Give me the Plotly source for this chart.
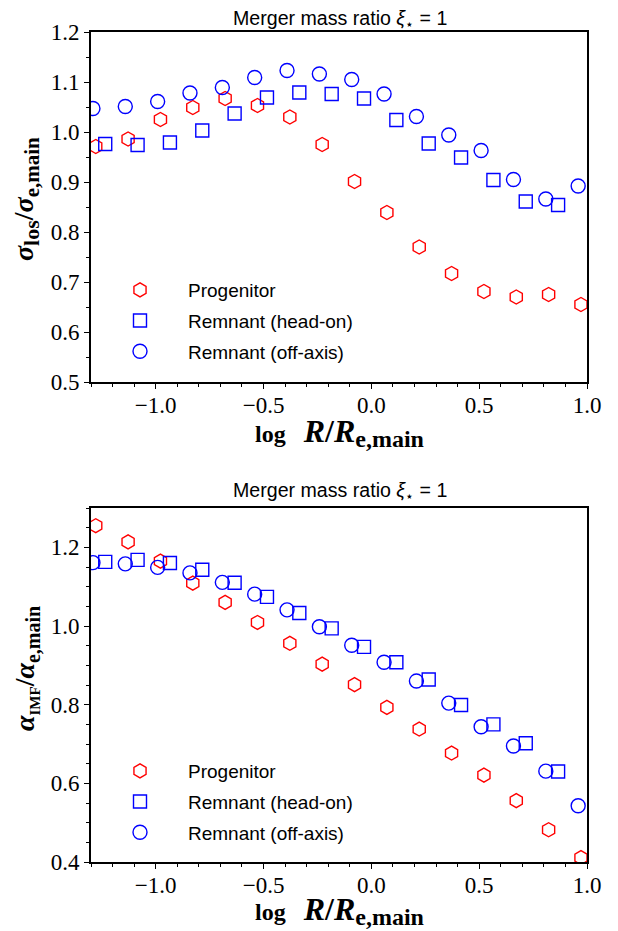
import plotly.graph_objects as go

# ---- data ----
x_prog = [-1.278, -1.128, -0.978, -0.828, -0.678, -0.528, -0.378, -0.228,
          -0.078, 0.072, 0.222, 0.372, 0.522, 0.672, 0.822, 0.972]
x_head = [-1.234, -1.084, -0.934, -0.784, -0.634, -0.484, -0.334, -0.184,
          -0.034, 0.116, 0.266, 0.416, 0.566, 0.716, 0.866]
x_off = [-1.291, -1.141, -0.991, -0.841, -0.691, -0.541, -0.391, -0.241,
         -0.091, 0.059, 0.209, 0.359, 0.509, 0.659, 0.809, 0.959]

sig_prog = [0.971, 0.986, 1.025, 1.049, 1.067, 1.053, 1.030, 0.975,
            0.901, 0.839, 0.770, 0.717, 0.681, 0.670, 0.675, 0.655]
sig_head = [0.976, 0.974, 0.979, 1.003, 1.037, 1.069, 1.079, 1.076,
            1.067, 1.024, 0.977, 0.949, 0.904, 0.861, 0.854]
sig_off = [1.047, 1.051, 1.061, 1.078, 1.089, 1.109, 1.123, 1.116,
           1.105, 1.076, 1.031, 0.994, 0.963, 0.905, 0.866, 0.892]

imf_prog = [1.255, 1.214, 1.165, 1.109, 1.060, 1.009, 0.956, 0.903,
            0.851, 0.793, 0.738, 0.677, 0.621, 0.556, 0.482, 0.411]
imf_head = [1.163, 1.168, 1.160, 1.143, 1.110, 1.074, 1.033, 0.994,
            0.947, 0.908, 0.864, 0.799, 0.750, 0.702, 0.630]
imf_off = [1.161, 1.158, 1.149, 1.135, 1.111, 1.081, 1.041, 0.998,
           0.951, 0.908, 0.860, 0.804, 0.744, 0.695, 0.631, 0.543]

names = ["Progenitor", "Remnant (head-on)", "Remnant (off-axis)"]
title_text = "Merger mass ratio <i>ξ</i><sub>⋆</sub> = 1"

# ---- styling ----
# the page body keeps its default 8px margin, so the figure is drawn 8px in
OFF = 8
W, H = 618 - OFF, 931 - OFF
RED, BLUE = "#ff0000", "#0000ff"
SERIF = "Liberation Serif"
SANS = "Liberation Sans"

def px_x(p):
    return (p - OFF) / W

def px_y(p):
    return 1 - (p - OFF) / H

fig = go.Figure()

styles = [
    dict(symbol="hexagon-open", size=14, color=RED),
    dict(symbol="square-open", size=13, color=BLUE),
    dict(symbol="circle-open", size=14, color=BLUE),
]

top_sets = [(x_prog, sig_prog), (x_head, sig_head), (x_off, sig_off)]
bot_sets = [(x_prog, imf_prog), (x_head, imf_head), (x_off, imf_off)]

for i, ((xs, ys), st) in enumerate(zip(top_sets, styles)):
    fig.add_trace(go.Scatter(
        x=xs, y=ys, mode="markers", name=names[i],
        xaxis="x", yaxis="y", legend="legend", legendgroup="t%d" % i,
        marker=dict(symbol=st["symbol"], size=st["size"], color=st["color"],
                    line=dict(width=1.4, color=st["color"])),
    ))
for i, ((xs, ys), st) in enumerate(zip(bot_sets, styles)):
    fig.add_trace(go.Scatter(
        x=xs, y=ys, mode="markers", name=names[i],
        xaxis="x2", yaxis="y2", legend="legend2", legendgroup="b%d" % i,
        marker=dict(symbol=st["symbol"], size=st["size"], color=st["color"],
                    line=dict(width=1.4, color=st["color"])),
    ))

tickfont = dict(family=SERIF, size=23, color="black")

def xaxis_cfg(anchor):
    return dict(
        domain=[px_x(91), px_x(587)], range=[-1.3, 1.0], anchor=anchor,
        automargin=False,
        tick0=0, dtick=0.5, tickformat=".1f", ticks="outside", ticklen=5,
        ticklabelstandoff=-3,
        tickwidth=1.2, tickcolor="black", tickfont=tickfont,
        showline=True, mirror=True, linecolor="black", linewidth=1.6,
        showgrid=False, zeroline=False,
        minor=dict(tick0=0, dtick=0.1, ticks="outside", ticklen=2.8,
                   tickwidth=1, tickcolor="black", showgrid=False),
    )

def yaxis_cfg(anchor, dom, rng, dtick):
    return dict(
        domain=dom, range=rng, anchor=anchor,
        automargin=False,
        tick0=0, dtick=dtick, tickformat=".1f", ticks="outside", ticklen=5,
        tickwidth=1.2, tickcolor="black", tickfont=tickfont,
        showline=True, mirror=True, linecolor="black", linewidth=1.6,
        showgrid=False, zeroline=False,
        minor=dict(tick0=0, dtick=0.05, ticks="outside", ticklen=2.8,
                   tickwidth=1, tickcolor="black", showgrid=False),
    )

legend_common = dict(
    xanchor="left", yanchor="top", bgcolor="rgba(0,0,0,0)",
    font=dict(family=SANS, size=19, color="black"),
    itemwidth=86, traceorder="grouped", tracegroupgap=3,
)

fig.update_layout(
    width=W, height=H,
    margin=dict(l=0, r=0, t=0, b=0, autoexpand=False),
    paper_bgcolor="white", plot_bgcolor="white",
    showlegend=True,
    xaxis=xaxis_cfg("y"),
    yaxis=yaxis_cfg("x", [px_y(382), px_y(32)], [0.5, 1.2], 0.1),
    xaxis2=xaxis_cfg("y2"),
    yaxis2=yaxis_cfg("x2", [px_y(862), px_y(508)], [0.4, 1.3], 0.2),
    legend=dict(x=px_x(92), y=px_y(271), **legend_common),
    legend2=dict(x=px_x(92), y=px_y(752), **legend_common),
)

ann = []
for ty in (20, 491):
    ann.append(dict(text=title_text, x=px_x(340), y=px_y(ty), xref="paper", yref="paper",
                    xanchor="center", yanchor="middle", showarrow=False,
                    font=dict(family=SANS, size=19.6, color="black")))

SUB = "<span style='font-size:%dpx'>%s</span>"
xlab = ("<b>log&nbsp;&nbsp;&nbsp;" + SUB % (32, "<i>R</i>/<i>R</i>")
        + "<sub>" + SUB % (24, "e,main") + "</sub></b>")
for ty in (432, 910):
    ann.append(dict(text=xlab, x=px_x(339), y=px_y(ty), xref="paper", yref="paper",
                    xanchor="center", yanchor="middle", showarrow=False,
                    font=dict(family=SERIF, size=24, color="black")))
ylabs = [("<b><i>σ</i><sub>" + SUB % (22, "los") + "</sub>/<i>σ</i><sub>"
          + SUB % (21, "e,main") + "</sub></b>", 199),
         ("<b><i>α</i><sub>" + SUB % (15, "IMF") + "</sub>/<i>α</i><sub>"
          + SUB % (20, "e,main") + "</sub></b>", 669)]
for txt, ty in ylabs:
    ann.append(dict(text=txt, x=px_x(26), y=px_y(ty), xref="paper", yref="paper",
                    xanchor="center", yanchor="middle", showarrow=False, textangle=-90,
                    font=dict(family=SERIF, size=28, color="black")))
fig.update_layout(annotations=ann)

fig.write_html("out.html")
